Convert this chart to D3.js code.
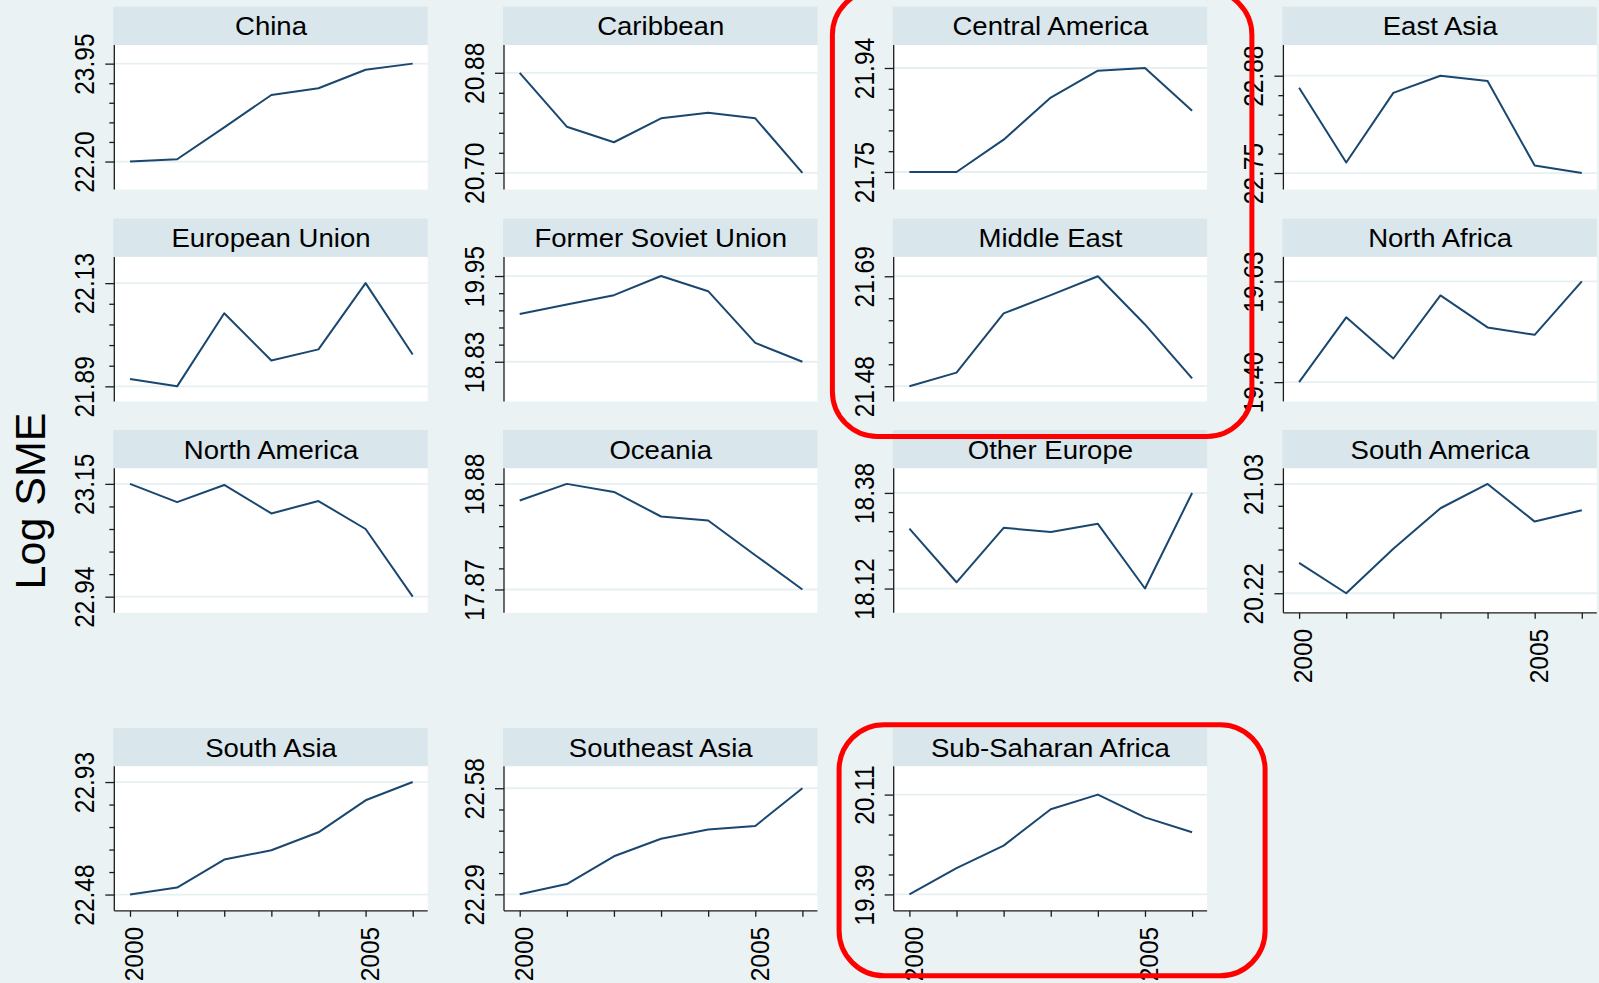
<!DOCTYPE html>
<html>
<head>
<meta charset="utf-8">
<script src="https://cdn.jsdelivr.net/npm/d3@7"></script>
<style>
  html, body { margin: 0; padding: 0; background: #eaf2f3; }
  svg { display: block; }
  text { font-family: 'Liberation Sans', Arial, Helvetica, sans-serif; fill: #000; }
</style>
</head>
<body>
<svg id="chart" width="1599" height="983"></svg>
<script>
// ---- data -------------------------------------------------------------
const years = [2000, 2001, 2002, 2003, 2004, 2005, 2006];

const regions = [
  "China", "Caribbean", "Central America", "East Asia",
  "European Union", "Former Soviet Union", "Middle East", "North Africa",
  "North America", "Oceania", "Other Europe", "South America",
  "South Asia", "Southeast Asia", "Sub-Saharan Africa"
];

// Log SME by year, 2000-2006
const china             = [22.20, 22.24, 22.81, 23.39, 23.51, 23.84, 23.95];
const caribbean         = [20.88, 20.783, 20.755, 20.798, 20.808, 20.798, 20.70];
const centralAmerica    = [21.75, 21.75, 21.809, 21.886, 21.935, 21.94, 21.862];
const eastAsia          = [22.864, 22.764, 22.857, 22.88, 22.873, 22.760, 22.75];
const europeanUnion     = [21.907, 21.89, 22.060, 21.950, 21.976, 22.13, 21.964];
const formerSovietUnion = [19.454, 19.577, 19.700, 19.95, 19.752, 19.076, 18.83];
const middleEast        = [21.48, 21.506, 21.619, 21.654, 21.69, 21.598, 21.495];
const northAfrica       = [19.40, 19.548, 19.454, 19.598, 19.525, 19.508, 19.63];
const northAmerica      = [23.15, 23.116, 23.148, 23.095, 23.118, 23.066, 22.94];
const oceania           = [18.721, 18.88, 18.803, 18.568, 18.530, 18.198, 17.87];
const otherEurope       = [18.283, 18.137, 18.285, 18.274, 18.296, 18.12, 18.38];
const southAmerica      = [20.445, 20.22, 20.549, 20.850, 21.03, 20.751, 20.835];
const southAsia         = [22.48, 22.508, 22.620, 22.657, 22.729, 22.857, 22.93];
const southeastAsia     = [22.29, 22.318, 22.394, 22.442, 22.467, 22.477, 22.58];
const subSaharanAfrica  = [19.39, 19.580, 19.742, 20.004, 20.11, 19.946, 19.838];

const series = [
  china, caribbean, centralAmerica, eastAsia,
  europeanUnion, formerSovietUnion, middleEast, northAfrica,
  northAmerica, oceania, otherEurope, southAmerica,
  southAsia, southeastAsia, subSaharanAfrica
];

// labelled y ticks (min, max) for each panel
const yTicks = [
  [22.20, 23.95], [20.70, 20.88], [21.75, 21.94], [22.75, 22.88],
  [21.89, 22.13], [18.83, 19.95], [21.48, 21.69], [19.40, 19.63],
  [22.94, 23.15], [17.87, 18.88], [18.12, 18.38], [20.22, 21.03],
  [22.48, 22.93], [22.29, 22.58], [19.39, 20.11]
];

// y axis range of each panel
const yRanges = [
  [21.700, 24.283], [20.670, 20.930], [21.718, 21.982], [22.728, 22.921],
  [21.855, 22.191], [18.312, 20.200], [21.451, 21.727], [19.356, 19.686],
  [22.910, 23.179], [17.647, 19.029], [18.054, 18.447], [20.075, 21.146],
  [22.415, 22.993], [22.245, 22.640], [19.272, 20.314]
];

const xTickLabels = [2000, 2005];

// ---- layout -----------------------------------------------------------
const W = 1599, H = 983;
const axisX0 = 114.3, colStep = 389.7, plotW = 313.4;
const rowTop = [6.7, 218.6, 430, 728];
const headH = 38.3, plotH = 144.5;
const nCols = 4;

const svg = d3.select("#chart");
svg.append("rect").attr("width", W).attr("height", H).attr("fill", "#eaf2f3");

const fmt = d3.format(".2f");
const axisColor = "#1b1b1b";

regions.forEach((name, i) => {
  const row = Math.floor(i / nCols), col = i % nCols;
  const x0 = axisX0 + col * colStep;
  const py = rowTop[row] + headH;
  const g = svg.append("g").attr("transform", `translate(${x0},${py})`);

  // title strip
  g.append("rect")
    .attr("x", -1).attr("y", -headH)
    .attr("width", plotW + 1).attr("height", headH)
    .attr("fill", "#d9e6eb");
  g.append("text")
    .attr("transform", `translate(${plotW / 2},${-headH / 2}) scale(1.04,1)`)
    .attr("dy", "0.36em")
    .attr("text-anchor", "middle")
    .style("font-size", "26.5px")
    .text(name);

  // plot region
  g.append("rect")
    .attr("x", 0).attr("y", 0)
    .attr("width", plotW).attr("height", plotH)
    .attr("fill", "#ffffff");

  const x = d3.scaleLinear().domain([2000, 2006]).range([15.7, 298.4]);
  const y = d3.scaleLinear().domain(yRanges[i]).range([plotH, 0]);
  const ticks = yTicks[i];

  // grid lines at labelled ticks
  g.selectAll("line.grid").data(ticks).join("line")
    .attr("class", "grid")
    .attr("x1", 0).attr("x2", plotW)
    .attr("y1", d => y(d)).attr("y2", d => y(d))
    .attr("stroke", "#e6eff1").attr("stroke-width", 1.8);

  // series line
  const line = d3.line()
    .x((d, j) => x(years[j]))
    .y(d => y(d));
  g.append("path").datum(series[i])
    .attr("d", line)
    .attr("fill", "none")
    .attr("stroke", "#1a476f")
    .attr("stroke-width", 2)
    .attr("stroke-linejoin", "round");

  // minor y ticks: four between the labelled ticks
  const step = (ticks[1] - ticks[0]) / 5;
  const minor = d3.range(1, 5).map(k => ticks[0] + k * step);
  const mg = g.append("g")
    .attr("color", axisColor)
    .call(d3.axisLeft(y).tickValues(minor).tickSize(5).tickSizeOuter(0).tickFormat(""));
  mg.select(".domain").remove();
  mg.selectAll("line").attr("stroke-width", 1.3);

  // major y axis
  const ag = g.append("g")
    .attr("color", axisColor)
    .call(d3.axisLeft(y).tickValues(ticks).tickSize(9).tickSizeOuter(0).tickFormat(fmt));
  ag.select(".domain").remove();
  ag.selectAll("line").attr("stroke-width", 1.3);
  ag.selectAll("text")
    .attr("x", null).attr("dy", null)
    .attr("text-anchor", "middle")
    .attr("transform", "translate(-20,0) rotate(-90) scale(0.98,1.1)")
    .style("font-size", "25px")
    .style("fill", "#000");
  g.append("line")
    .attr("x1", 0).attr("x2", 0).attr("y1", 0).attr("y2", plotH)
    .attr("stroke", axisColor).attr("stroke-width", 1.3);

  // x axis on the lowest panel of each column
  if (i + nCols >= regions.length) {
    const xg = g.append("g")
      .attr("transform", `translate(0,${plotH})`)
      .attr("color", axisColor)
      .call(d3.axisBottom(x).tickValues(years).tickSize(6).tickSizeOuter(0)
        .tickFormat(d => xTickLabels.includes(d) ? String(d) : ""));
    xg.select(".domain").remove();
    xg.selectAll("line").attr("stroke-width", 1.3);
    xg.selectAll("text")
      .attr("y", null).attr("dy", "0.49em")
      .attr("text-anchor", "end")
      .attr("transform", "translate(0,16) rotate(-90) scale(0.98,1.05)")
      .style("font-size", "25px")
      .style("fill", "#000");
    xg.append("line")
      .attr("x1", 0).attr("x2", plotW).attr("y1", 0).attr("y2", 0)
      .attr("stroke", axisColor).attr("stroke-width", 1.3);
  }
});

// y axis title
svg.append("text")
  .attr("transform", "translate(45,501) rotate(-90)")
  .attr("text-anchor", "middle")
  .style("font-size", "43px")
  .text("Log SME");

// red call-out outlines around highlighted panels
// [column, first row, last row, left pad, top pad, right pad, bottom pad]
const callouts = [
  [2, 0, 1, 61.3, 16.7, 44.8, 35.0],
  [2, 3, 3, 54.6, 3.3, 58.0, 65.0]
];
callouts.forEach(([col, r0, r1, pl, pt, pr, pb]) => {
  const left = axisX0 + col * colStep - pl;
  const right = axisX0 + col * colStep + plotW + pr;
  const top = rowTop[r0] - pt;
  const bottom = rowTop[r1] + headH + plotH + pb;
  svg.append("rect")
    .attr("x", left).attr("y", top)
    .attr("width", right - left).attr("height", bottom - top)
    .attr("rx", 45).attr("ry", 45)
    .attr("fill", "none")
    .attr("stroke", "#ff0000")
    .attr("stroke-width", 5);
});
</script>
</body>
</html>
